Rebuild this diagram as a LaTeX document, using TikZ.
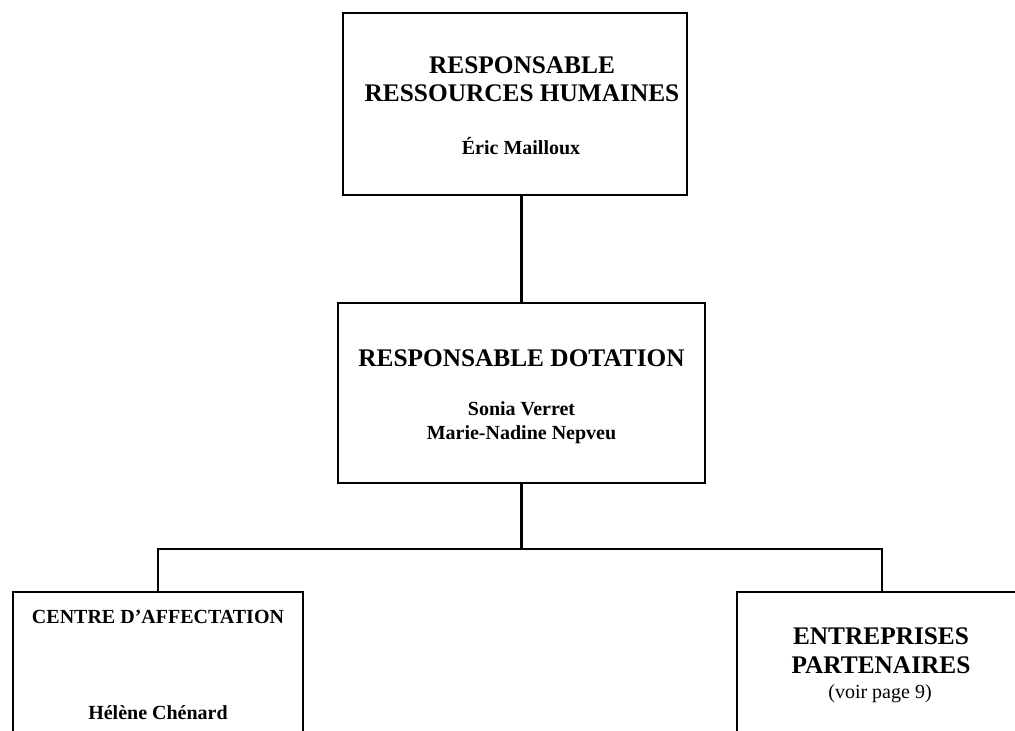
\documentclass[tikz,border=0pt]{standalone}
\usepackage{fontspec}
\setmainfont{Liberation Serif}
\begin{document}
\begin{tikzpicture}[x=0.75pt,y=-0.75pt,
  box/.style={draw=black, line width=2pt, inner sep=0pt, fill=none},
  link/.style={draw=black, line width=2pt},
  title/.style={anchor=base, inner sep=0pt, font=\fontsize{19}{21}\selectfont\bfseries},
  person/.style={anchor=base, inner sep=0pt, font=\fontsize{15}{17}\selectfont\bfseries},
  note/.style={anchor=base, inner sep=0pt, font=\fontsize{15}{17}\selectfont}]
  \clip (0,0) rectangle (1015,731);
  \fill[white] (0,0) rectangle (1015,731);

  % boxes
  \node[box, minimum width=258pt, minimum height=136.5pt] (rh) at (515,104) {};
  \node[box, minimum width=275.25pt, minimum height=135pt] (dot) at (521.5,393) {};
  \node[box, minimum width=217.5pt, minimum height=156pt] (centre) at (158,696) {};
  \node[box, minimum width=217.5pt, minimum height=156pt] (entr) at (882,696) {};

  % connectors
  \coordinate (bus) at (521.5,549);
  \draw[link] (dot.north) -- (dot.north |- rh.south);
  \draw[link] (dot.south) -- (bus);
  \draw[link] (centre.north) |- (bus) -| (entr.north);

  % texts
  \node[title] (t1) at (522,74) {RESPONSABLE};
  \node[title] (t2) at (522,101.7) {RESSOURCES HUMAINES};
  \node[person] (t3) at (521,155) {Éric Mailloux};

  \node[title] (d1) at (521.5,366) {RESPONSABLE DOTATION};
  \node[person] (d2) at (521.5,415) {Sonia Verret};
  \node[person] (d3) at (521.5,439) {Marie-Nadine Nepveu};

  \node[person] (c1) at (158,623) {CENTRE D'AFFECTATION};
  \node[person] (c2) at (158,719) {Hélène Chénard};

  \node[title] (e1) at (881,644) {ENTREPRISES};
  \node[title] (e2) at (881,673) {PARTENAIRES};
  \node[note] (e3) at (880,698) {(voir page 9)};
\end{tikzpicture}
\end{document}
